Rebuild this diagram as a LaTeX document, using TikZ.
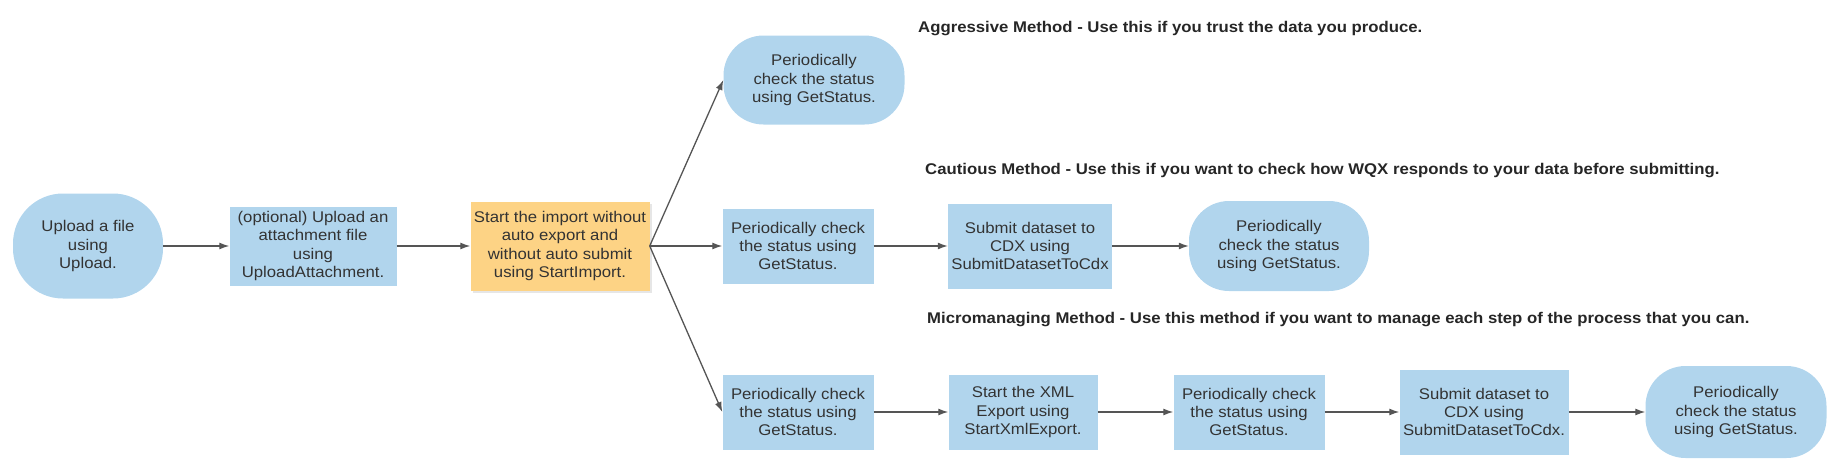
\documentclass[tikz,border=0pt]{standalone}
\usepackage{fontspec}
\setmainfont{Liberation Sans}[FakeStretch=1.08]
\usetikzlibrary{arrows.meta,shadows}
\definecolor{boxblue}{HTML}{B1D5ED}
\definecolor{boxorange}{HTML}{FDD385}
\definecolor{linegray}{HTML}{555555}
\definecolor{textgray}{HTML}{333333}

\begin{document}
\begin{tikzpicture}[x=1pt,y=-1pt,
	box/.style={rectangle, fill=boxblue, inner sep=0pt, align=center, text=textgray, font=\fontsize{15.5}{18.3}\selectfont},
	pill/.style={box, rounded corners=40pt},
	method/.style={anchor=west, inner sep=0pt, text=black!85, font=\fontsize{15.5}{18}\selectfont\bfseries},
	flow/.style={->, >={Latex[length=10pt,width=7pt]}, draw=linegray, line width=1.3pt}]
	\useasboundingbox (0,0) rectangle (1840,469);
	% common start
	\node[box, rounded corners=50pt, minimum width=150pt, minimum height=105pt] (upload) at (88,246) {Upload a file\\using\\Upload.};
	\node[box, minimum width=167pt, minimum height=79pt] (attach) at (313,246) {(optional) Upload an\\attachment file\\using\\UploadAttachment.};
	\node[box, fill=boxorange, minimum width=179pt, minimum height=89pt, drop shadow={shadow xshift=2pt, shadow yshift=-2pt, opacity=0.2}] (import) at (560,246) {Start the import without\\auto export and\\without auto submit\\using StartImport.};
	
	% aggressive
	\node[method] (aggtitle) at (918,29) {Aggressive Method - Use this if you trust the data you produce.};
	\node[pill, minimum width=181pt, minimum height=89pt] (aggstat) at (814,80) {Periodically\\check the status\\using GetStatus.};
	
	% cautious
	\node[method] (cauttitle) at (925,171) {Cautious Method - Use this if you want to check how WQX responds to your data before submitting.};
	\node[box, minimum width=151pt, minimum height=75pt] (cautstat) at (798,246) {Periodically check\\the status using\\GetStatus.};
	\node[box, minimum width=164pt, minimum height=85pt] (cautsubmit) at (1030,246) {Submit dataset to\\CDX using\\SubmitDatasetToCdx};
	\node[pill, minimum width=180pt, minimum height=90pt] (cautend) at (1279,246) {Periodically\\check the status\\using GetStatus.};
	
	% micromanaging
	\node[method] (microtitle) at (927,320) {Micromanaging Method - Use this method if you want to manage each step of the process that you can.};
	\node[box, minimum width=151pt, minimum height=75pt] (microstat) at (798,412) {Periodically check\\the status using\\GetStatus.};
	\node[box, minimum width=149pt, minimum height=75pt] (microxml) at (1023,412) {Start the XML\\Export using\\StartXmlExport.};
	\node[box, minimum width=151pt, minimum height=75pt] (microstat2) at (1249,412) {Periodically check\\the status using\\GetStatus.};
	\node[box, minimum width=169pt, minimum height=85pt] (microsubmit) at (1484,412) {Submit dataset to\\CDX using\\SubmitDatasetToCdx.};
	\node[pill, minimum width=181pt, minimum height=92pt] (microend) at (1736,412) {Periodically\\check the status\\using GetStatus.};
	
	\draw[flow] (upload) -- (attach);
	\draw[flow] (attach) -- (import);
	\draw[flow] (import.east) -- (aggstat.west);
	\draw[flow] (import.east) -- (cautstat.west);
	\draw[flow] (import.east) -- (microstat.west);
	\draw[flow] (cautstat) -- (cautsubmit);
	\draw[flow] (cautsubmit) -- (cautend);
	\draw[flow] (microstat) -- (microxml);
	\draw[flow] (microxml) -- (microstat2);
	\draw[flow] (microstat2) -- (microsubmit);
	\draw[flow] (microsubmit) -- (microend);
\end{tikzpicture}
\end{document}
